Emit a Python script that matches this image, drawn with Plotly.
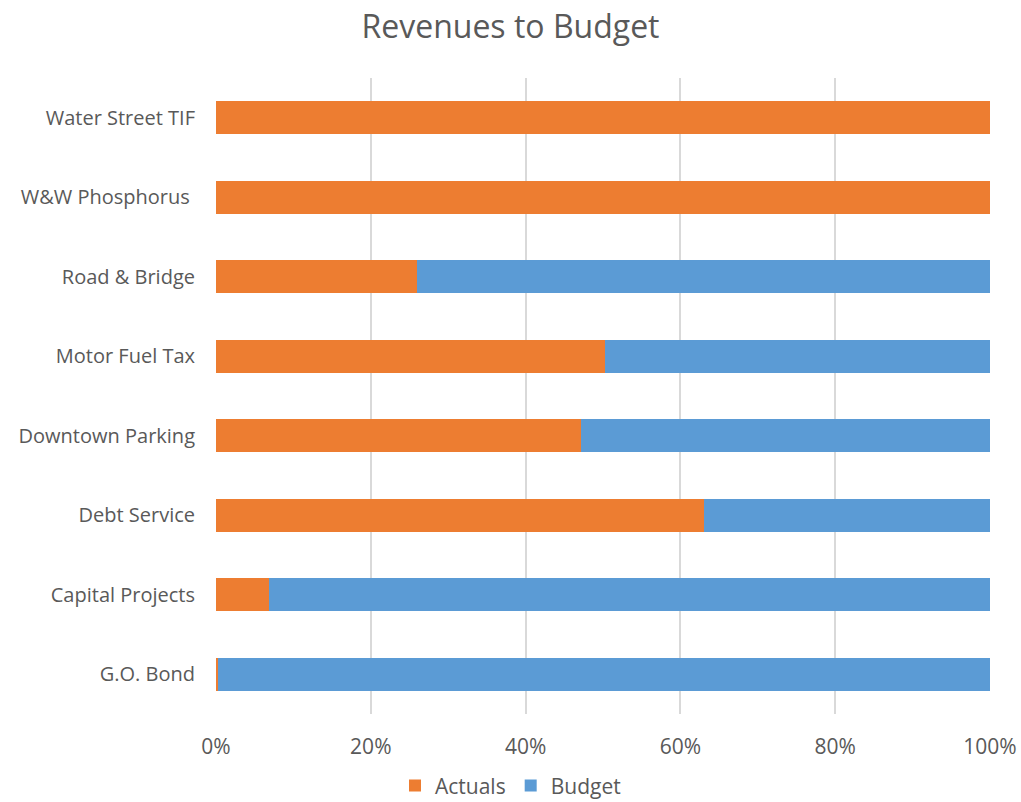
import plotly.graph_objects as go

# Funds, listed bottom to top
funds = [
    "G.O. Bond",
    "Capital Projects",
    "Debt Service",
    "Downtown Parking",
    "Motor Fuel Tax",
    "Road & Bridge",
    "W&W Phosphorus ",
    "Water Street TIF",
]

# Share of total (percent) for each series
actuals_pct = [0.3, 6.8, 63.0, 47.1, 50.3, 26.0, 100.0, 100.0]
budget_pct = [99.7, 93.2, 37.0, 52.9, 49.7, 74.0, 0.0, 0.0]

x_ticks = [0, 20, 40, 60, 80, 100]

FONT = "Open Sans, Liberation Sans, sans-serif"
GREY = "#595959"

fig = go.Figure()
fig.add_trace(go.Bar(
    y=funds, x=actuals_pct, name="Actuals", orientation="h",
    marker=dict(color="#ED7D31", line=dict(width=0)),
))
fig.add_trace(go.Bar(
    y=funds, x=budget_pct, name="Budget", orientation="h",
    marker=dict(color="#5B9BD5", line=dict(width=0)),
))

fig.update_layout(
    barmode="stack",
    bargap=0.58,
    width=1021,
    height=802,
    margin=dict(l=216, r=31, t=78, b=88, autoexpand=False),
    paper_bgcolor="white",
    plot_bgcolor="white",
    font=dict(family=FONT, color=GREY, size=20),
    title=dict(
        text="Revenues to Budget",
        x=0.5, xanchor="center",
        y=0.966, yanchor="middle",
        font=dict(size=32, color=GREY, family=FONT),
    ),
    xaxis=dict(
        range=[0, 100],
        tickvals=x_ticks,
        ticktext=[f"{v}%" for v in x_ticks],
        showgrid=True,
        gridcolor="#D9D9D9",
        gridwidth=2,
        zeroline=False,
        showline=False,
        ticks="outside",
        ticklen=14,
        tickcolor="rgba(0,0,0,0)",
        tickfont=dict(size=21, color=GREY),
        automargin=False,
        fixedrange=True,
    ),
    yaxis=dict(
        showgrid=False,
        showline=False,
        zeroline=False,
        ticks="outside",
        ticklen=16,
        tickcolor="rgba(0,0,0,0)",
        tickfont=dict(size=20, color=GREY),
        automargin=False,
        fixedrange=True,
    ),
    legend=dict(
        orientation="h",
        x=0.5, xanchor="center", xref="container",
        y=0.02, yanchor="middle", yref="container",
        font=dict(size=21, color=GREY),
        itemwidth=30,
        traceorder="normal",
    ),
)

fig.write_html("out.html")
